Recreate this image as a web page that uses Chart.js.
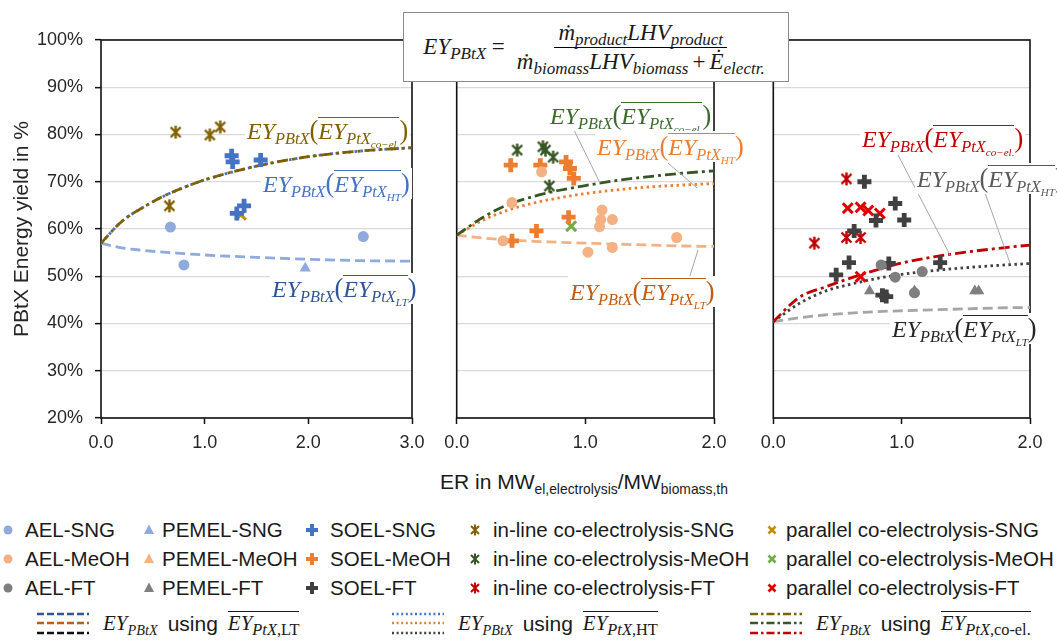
<!DOCTYPE html>
<html>
<head>
<meta charset="utf-8">
<script src="https://cdn.jsdelivr.net/npm/chart.js@4.4.0/dist/chart.umd.min.js"></script>
<style>
  body { margin: 0; width: 1057px; height: 644px; overflow: hidden; background: #fff; position: relative;
         font-family: "Liberation Sans", Arial, sans-serif; color: #1a1a1a; }
  canvas { position: absolute; z-index: 1; }
  #leaders { position: absolute; left: 0; top: 0; z-index: 2; }
  .m { font-family: "Liberation Serif", "DejaVu Serif", serif; font-style: italic; }
  .up { font-style: normal; }
  sub { font-size: 0.68em; vertical-align: -0.32em; line-height: 0; }
  .lab { position: absolute; z-index: 3; background: #fff; font-size: 24px; line-height: 30px; padding: 0 2px; white-space: nowrap; }
  .par { font-style: normal; font-size: 1.1em; }
  .ov { display: inline-block; border-top: 1.3px solid currentColor; line-height: 1; padding-top: 1px; }
  #formula { position: absolute; z-index: 4; left: 403px; top: 12px; width: 384px; height: 68px; border: 1.5px solid #8c8c8c;
             background: #fff; display: flex; align-items: center; justify-content: center; gap: 8px; font-size: 23px; }
  #formula sub { font-size: 0.74em; }
  .frac { display: flex; flex-direction: column; align-items: center; }
  .num { border-bottom: 1.5px solid #000; padding: 0 4px 1px; line-height: 26px; }
  .den { padding: 1px 4px 0; line-height: 26px; }
  .pl { font-style: normal; margin: 0 4px; }
  #xtitle { position: absolute; left: 440px; top: 470px; font-size: 21px; white-space: nowrap; color: #1a1a1a; }
  #xtitle sub { font-size: 0.66em; vertical-align: -0.35em; }
  .lg { position: absolute; font-size: 20.5px; line-height: 22px; white-space: nowrap; }
  .lgm { position: absolute; }
  .lline { position: absolute; display: flex; align-items: center; gap: 10px; font-size: 21px; white-space: nowrap; }
</style>
</head>
<body>
<canvas id="c1" width="430" height="442" style="left:0px;top:28px"></canvas>
<canvas id="c2" width="300" height="442" style="left:440px;top:28px"></canvas>
<canvas id="c3" width="300" height="442" style="left:757px;top:28px"></canvas>

<svg id="leaders" width="1057" height="644">
  <g stroke="#a6a6a6" stroke-width="1" fill="none">
    <line x1="573" y1="128" x2="600" y2="183"/>
    <line x1="668" y1="163" x2="697" y2="188"/>
    <line x1="688" y1="282" x2="698" y2="250"/>
    <line x1="898" y1="155" x2="950" y2="255"/>
    <line x1="985" y1="193" x2="1010" y2="263"/>
  </g>
</svg>

<div class="lab m" style="left:245px;top:115px;color:#7F6000">EY<sub>PBtX</sub><span class="par">(</span><span class="ov">EY<sub>PtX<sub>co−el.</sub></sub></span><span class="par">)</span></div>
<div class="lab m" style="left:261px;top:168px;color:#4472C4">EY<sub>PBtX</sub><span class="par">(</span><span class="ov">EY<sub>PtX<sub>HT</sub></sub></span><span class="par">)</span></div>
<div class="lab m" style="left:270px;top:273px;color:#2F5597">EY<sub>PBtX</sub><span class="par">(</span><span class="ov">EY<sub>PtX<sub>LT</sub></sub></span><span class="par">)</span></div>

<div class="lab m" style="left:548px;top:100px;color:#3B6B2A">EY<sub>PBtX</sub><span class="par">(</span><span class="ov">EY<sub>PtX<sub>co−el.</sub></sub></span><span class="par">)</span></div>
<div class="lab m" style="left:595px;top:131px;color:#ED7D31">EY<sub>PBtX</sub><span class="par">(</span><span class="ov">EY<sub>PtX<sub>HT</sub></sub></span><span class="par">)</span></div>
<div class="lab m" style="left:568px;top:276px;color:#C55A11">EY<sub>PBtX</sub><span class="par">(</span><span class="ov">EY<sub>PtX<sub>LT</sub></sub></span><span class="par">)</span></div>

<div class="lab m" style="left:860px;top:123px;color:#C00000">EY<sub>PBtX</sub><span class="par">(</span><span class="ov">EY<sub>PtX<sub>co−el.</sub></sub></span><span class="par">)</span></div>
<div class="lab m" style="left:915px;top:163px;color:#595959">EY<sub>PBtX</sub><span class="par">(</span><span class="ov">EY<sub>PtX<sub>HT</sub></sub></span><span class="par">)</span></div>
<div class="lab m" style="left:890px;top:313px;color:#262626">EY<sub>PBtX</sub><span class="par">(</span><span class="ov">EY<sub>PtX<sub>LT</sub></sub></span><span class="par">)</span></div>

<div id="formula">
  <div class="m">EY<sub>PBtX</sub> <span class="up">=</span></div>
  <div class="frac m">
    <div class="num">ṁ<sub>product</sub>LHV<sub>product</sub></div>
    <div class="den">ṁ<sub>biomass</sub>LHV<sub>biomass</sub><span class="pl">+</span>Ė<sub>electr.</sub></div>
  </div>
</div>

<div id="xtitle">ER in MW<sub>el,electrolysis</sub>/MW<sub>biomass,th</sub></div>

<div id="legend"></div>

<script>
// ---------- panel 1: SNG ----------
const sngAelX = [0.67, 0.80, 2.53];
const sngAelY = [60.4, 52.4, 58.4];
const sngPemX = [1.97];
const sngPemY = [51.7];
const sngSoelX = [1.26, 1.27, 1.54, 1.38, 1.31];
const sngSoelY = [75.5, 74.2, 74.6, 64.9, 63.3];
const sngInlineX = [0.72, 1.05, 1.15, 0.66];
const sngInlineY = [80.5, 79.9, 81.6, 64.9];
const sngParX = [1.35];
const sngParY = [63.0];
const sngCurveX = [0, 0.2, 0.4, 0.6, 0.8, 1.0, 1.5, 2.0, 2.5, 3.0];
const sngLtY = [57.0, 56.0, 55.5, 55.1, 54.8, 54.5, 54.0, 53.6, 53.3, 53.2];
const sngHtY = [57.0, 61.6, 64.5, 66.9, 68.8, 70.4, 73.3, 75.3, 76.5, 77.2];
const sngCoelY = [57.0, 61.6, 64.5, 66.9, 68.8, 70.4, 73.3, 75.3, 76.5, 77.2];

// ---------- panel 2: MeOH ----------
const meohAelX = [0.66, 0.43, 0.36, 1.13, 1.12, 1.11, 1.21, 1.02, 1.21, 1.71];
const meohAelY = [72.1, 65.6, 57.5, 64.0, 62.0, 60.5, 62.0, 55.1, 56.1, 58.2];
const meohPemX = [];
const meohPemY = [];
const meohSoelX = [0.42, 0.65, 0.85, 0.88, 0.91, 0.87, 0.62, 0.43];
const meohSoelY = [73.5, 73.5, 74.2, 72.8, 70.7, 62.5, 59.6, 57.5];
const meohInlineX = [0.47, 0.67, 0.69, 0.75, 0.72];
const meohInlineY = [76.7, 77.4, 76.7, 75.2, 69.1];
const meohParX = [0.89];
const meohParY = [60.6];
const meohCurveX = [0, 0.2, 0.4, 0.6, 0.8, 1.0, 1.25, 1.5, 1.75, 2.0];
const meohLtY = [58.7, 58.1, 57.7, 57.4, 57.2, 57.0, 56.8, 56.6, 56.4, 56.3];
const meohHtY = [58.7, 61.8, 64.0, 65.5, 66.6, 67.5, 68.3, 68.9, 69.3, 69.6];
const meohCoelY = [58.7, 62.4, 65.2, 66.9, 68.2, 69.2, 70.3, 71.1, 71.8, 72.3];

// ---------- panel 3: FT ----------
const ftAelX = [0.84, 0.95, 1.16, 1.10];
const ftAelY = [52.4, 49.8, 51.0, 46.5];
const ftPemX = [0.75, 1.10, 1.57, 1.60];
const ftPemY = [46.9, 46.9, 46.9, 46.9];
const ftSoelX = [0.71, 0.95, 1.02, 0.80, 0.63, 0.59, 0.49, 0.90, 1.30, 0.85, 0.88];
const ftSoelY = [70.0, 65.4, 61.9, 61.8, 59.6, 52.9, 50.3, 52.7, 52.9, 46.0, 45.7];
const ftInlineX = [0.57, 0.32, 0.57, 0.68];
const ftInlineY = [70.6, 57.0, 58.2, 58.2];
const ftParX = [0.58, 0.68, 0.74, 0.83, 0.68];
const ftParY = [64.4, 64.6, 63.9, 63.3, 49.9];
const ftCurveX = [0, 0.2, 0.4, 0.6, 0.8, 1.0, 1.25, 1.5, 1.75, 2.0];
const ftLtY = [40.4, 41.2, 41.8, 42.2, 42.5, 42.7, 42.9, 43.1, 43.3, 43.4];
const ftHtY = [40.4, 44.2, 46.8, 48.3, 49.5, 50.4, 51.2, 51.8, 52.3, 52.7];
const ftCoelY = [40.4, 45.5, 47.7, 49.6, 51.3, 52.8, 54.1, 55.1, 55.9, 56.6];

const yTicks = [20, 30, 40, 50, 60, 70, 80, 90, 100];

const products = ['SNG', 'MeOH', 'FT'];
const techNames = ['AEL', 'PEMEL', 'SOEL', 'in-line co-electrolysis', 'parallel co-electrolysis'];
const techKinds = ['circle', 'triangle', 'plus', 'asterisk', 'x'];
const colors = {
  SNG: ['#8FAADC', '#8FAADC', '#4472C4', '#7F6000', '#BF9000'],
  MeOH: ['#F4B183', '#F4B183', '#ED7D31', '#375623', '#70AD47'],
  FT: ['#7F7F7F', '#7F7F7F', '#404040', '#C00000', '#E00000']
};
const curveColors = {
  SNG: ['#8FAADC', '#4472C4', '#7F6000'],
  MeOH: ['#F4B183', '#ED7D31', '#375623'],
  FT: ['#A6A6A6', '#404040', '#C00000']
};

const pts = (xs, ys) => xs.map((x, i) => ({x: x, y: ys[i]}));

function asteriskImg(color) {
  const c = document.createElement('canvas');
  c.width = 15; c.height = 15;
  const g = c.getContext('2d');
  g.strokeStyle = color;
  g.lineWidth = 2.4;
  g.beginPath();
  g.moveTo(2.5, 2.5); g.lineTo(12.5, 12.5);
  g.moveTo(12.5, 2.5); g.lineTo(2.5, 12.5);
  g.moveTo(7.5, 1); g.lineTo(7.5, 14);
  g.stroke();
  return c;
}

function markerDataset(label, xs, ys, kind, color) {
  const ds = {
    label: label, data: pts(xs, ys), showLine: false,
    pointBackgroundColor: color, pointBorderColor: color, pointBorderWidth: 0
  };
  if (kind === 'circle') { ds.pointStyle = 'circle'; ds.pointRadius = 5.5; }
  if (kind === 'triangle') { ds.pointStyle = 'triangle'; ds.pointRadius = 6.5; }
  if (kind === 'plus') { ds.pointStyle = 'cross'; ds.pointRadius = 7; ds.pointBorderWidth = 4.8; }
  if (kind === 'x') { ds.pointStyle = 'crossRot'; ds.pointRadius = 7; ds.pointBorderWidth = 3; }
  if (kind === 'asterisk') { ds.pointStyle = asteriskImg(color); ds.pointRadius = 7; }
  ds.pointHoverRadius = ds.pointRadius;
  return ds;
}

function curveDataset(xs, ys, color, dash) {
  return {
    data: pts(xs, ys), showLine: true, pointRadius: 0, pointHoverRadius: 0,
    borderColor: color, borderWidth: 2.8, borderDash: dash,
    cubicInterpolationMode: 'monotone', fill: false
  };
}

const dashLT = [10, 5];
const dashHT = [2.5, 3.5];
const dashCo = [11, 4, 3, 4];

function panelDatasets(prod, series, curveX, lt, ht, co) {
  const list = series.map((s, i) => markerDataset(techNames[i] + '-' + prod, s[0], s[1], techKinds[i], colors[prod][i]));
  // draw order: first dataset ends on top
  list.push(curveDataset(curveX, co, curveColors[prod][2], dashCo));
  list.push(curveDataset(curveX, ht, curveColors[prod][1], dashHT));
  list.push(curveDataset(curveX, lt, curveColors[prod][0], dashLT));
  return list;
}

const framePlugin = {
  id: 'frame',
  beforeDatasetsDraw(chart) {
    const {ctx, chartArea: a} = chart;
    ctx.save();
    ctx.strokeStyle = '#111';
    ctx.lineWidth = 1.6;
    ctx.strokeRect(a.left, a.top, a.right - a.left, a.bottom - a.top);
    ctx.restore();
  }
};

const tickFont = {family: "'Liberation Sans', Arial, sans-serif", size: 18};

function makeChart(id, datasets, xMax, first, pad) {
  const yAxis = first ? {
    min: 20, max: 100,
    afterBuildTicks: axis => { axis.ticks = yTicks.map(v => ({value: v})); },
    ticks: {callback: v => v + '%', font: tickFont, color: '#262626', padding: 12},
    grid: {color: '#d9d9d9', lineWidth: 1.3, tickColor: '#111', tickLength: 6, tickWidth: 1.5},
    border: {display: false},
    title: {display: true, text: 'PBtX Energy yield in %', color: '#262626',
            font: {family: "'Liberation Sans', Arial, sans-serif", size: 21}, padding: {top: 10, bottom: 0}},
    afterFit: axis => { axis.width = 101; axis.paddingTop = 0; axis.paddingBottom = 0; }
  } : {
    min: 20, max: 100,
    afterBuildTicks: axis => { axis.ticks = yTicks.map(v => ({value: v})); },
    ticks: {display: false},
    grid: {color: '#d9d9d9', lineWidth: 1.3, drawTicks: false},
    border: {display: false},
    afterFit: axis => { axis.width = 0; axis.paddingTop = 0; axis.paddingBottom = 0; }
  };
  return new Chart(document.getElementById(id), {
    type: 'scatter',
    data: {datasets: datasets},
    options: {
      responsive: false,
      animation: false,
      layout: {padding: pad, autoPadding: false},
      plugins: {legend: {display: false}, tooltip: {enabled: false}},
      scales: {
        x: {
          type: 'linear', min: 0, max: xMax,
          ticks: {stepSize: 1, callback: v => v.toFixed(1), font: tickFont, color: '#262626', padding: 8},
          grid: {drawOnChartArea: false, tickLength: 6, tickColor: '#111', tickWidth: 1.5},
          border: {display: false},
          afterFit: axis => { axis.height = 52; axis.paddingLeft = 0; axis.paddingRight = 0; }
        },
        y: yAxis
      }
    },
    plugins: [framePlugin]
  });
}

makeChart('c1', panelDatasets('SNG',
  [[sngAelX, sngAelY], [sngPemX, sngPemY], [sngSoelX, sngSoelY], [sngInlineX, sngInlineY], [sngParX, sngParY]],
  sngCurveX, sngLtY, sngHtY, sngCoelY), 3, true, {left: 0, right: 18, top: 12, bottom: 0});

makeChart('c2', panelDatasets('MeOH',
  [[meohAelX, meohAelY], [meohPemX, meohPemY], [meohSoelX, meohSoelY], [meohInlineX, meohInlineY], [meohParX, meohParY]],
  meohCurveX, meohLtY, meohHtY, meohCoelY), 2, false, {left: 16.7, right: 26, top: 12, bottom: 0});

makeChart('c3', panelDatasets('FT',
  [[ftAelX, ftAelY], [ftPemX, ftPemY], [ftSoelX, ftSoelY], [ftInlineX, ftInlineY], [ftParX, ftParY]],
  ftCurveX, ftLtY, ftHtY, ftCoelY), 2, false, {left: 16.3, right: 27, top: 12, bottom: 0});

// ---------- legend ----------
const legendMarkerX = [8, 149, 312, 475, 772];
const legendTextX = [25, 162, 330, 493, 786];
const legendRowY = [530, 559, 588];

function markerSvg(kind, color) {
  const s = {
    circle: `<circle cx="8" cy="8" r="4.5" fill="${color}"/>`,
    triangle: `<polygon points="8,2.5 13,12 3,12" fill="${color}"/>`,
    plus: `<path d="M8 2 V14 M2 8 H14" stroke="${color}" stroke-width="4"/>`,
    asterisk: `<path d="M4 4 L12 12 M12 4 L4 12 M8 2.5 V13.5" stroke="${color}" stroke-width="2"/>`,
    x: `<path d="M4.5 4.5 L11.5 11.5 M11.5 4.5 L4.5 11.5" stroke="${color}" stroke-width="2.6"/>`
  }[kind];
  return `<svg width="16" height="16">${s}</svg>`;
}

const legend = document.getElementById('legend');
let html = '';
products.forEach((prod, r) => {
  techNames.forEach((name, c) => {
    html += `<div class="lgm" style="left:${legendMarkerX[c] - 8}px;top:${legendRowY[r] - 8}px">${markerSvg(techKinds[c], colors[prod][c])}</div>`;
    html += `<div class="lg" style="left:${legendTextX[c]}px;top:${legendRowY[r] - 11}px">${name}-${prod}</div>`;
  });
});

function lineSample(dash, cols) {
  const ys = [4, 13, 23];
  let s = '';
  cols.forEach((col, i) => {
    s += `<line x1="0" y1="${ys[i]}" x2="52" y2="${ys[i]}" stroke="${col}" stroke-width="2.6" stroke-dasharray="${dash.join(',')}"/>`;
  });
  return `<svg width="52" height="27">${s}</svg>`;
}

const lineLegend = [
  {x: 37, dash: [7, 3], cols: ['#2F5597', '#C55A11', '#111'], sub: 'LT'},
  {x: 392, dash: [2, 2.6], cols: ['#4472C4', '#ED7D31', '#404040'], sub: 'HT'},
  {x: 750, dash: [8, 3, 2.5, 3], cols: ['#7F6000', '#375623', '#C00000'], sub: 'co-el.'}
];
lineLegend.forEach(l => {
  html += `<div class="lline" style="left:${l.x}px;top:610px">${lineSample(l.dash, l.cols)}` +
    `<span class="m" style="margin-left:4px">EY<sub>PBtX</sub></span><span>using</span>` +
    `<span class="m"><span class="ov">EY<sub style="font-size:0.78em">PtX<span class="up">,${l.sub}</span></sub></span></span></div>`;
});
legend.innerHTML = html;
</script>
</body>
</html>
